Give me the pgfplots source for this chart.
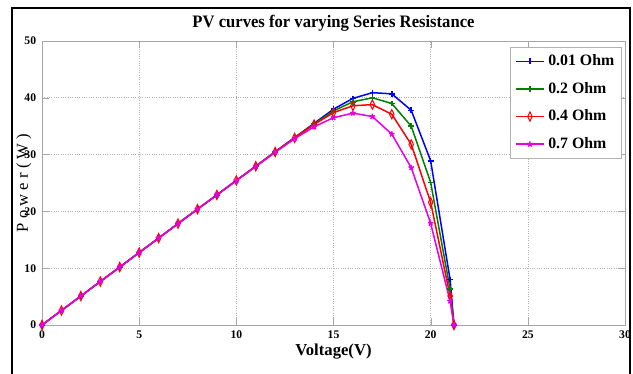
\documentclass[border=0pt]{standalone}
\usepackage{pgfplots}
\pgfplotsset{compat=1.18}
\usepackage{fontspec}
\setmainfont{Liberation Serif}
\definecolor{mblue}{RGB}{0,0,255}
\definecolor{mgreen}{RGB}{0,128,0}
\definecolor{mred}{RGB}{255,0,0}
\definecolor{mmag}{RGB}{230,0,230}
\begin{document}
\begin{tikzpicture}
\path[use as bounding box] (-25.2pt,-29.4pt) rectangle (354.6pt,195pt);
\draw[line width=1.2pt] (-18pt,-40pt) rectangle (352.8pt,190.2pt);
\begin{axis}[
  at={(0,0)}, anchor=south west,
  scale only axis, width=349.8pt, height=170.4pt,
  xmin=0, xmax=30, ymin=0, ymax=50,
  xtick={0,5,...,30}, ytick={0,10,...,50},
  grid=major,
  grid style={densely dotted, gray!60, line width=0.4pt},
  axis line style={gray!70, line width=0.4pt},
  tick style={gray!70},
  tick align=inside,
  tick label style={font=\bfseries\fontsize{7}{8}\selectfont},
  /pgf/number format/assume math mode=true,
  title={\bfseries PV curves for varying Series Resistance},
  title style={font=\bfseries\fontsize{10.5}{12}\selectfont, yshift=-4pt, xscale=0.95},
  xlabel={\bfseries Voltage(V)},
  xlabel style={font=\bfseries\fontsize{10}{12}\selectfont, yshift=4pt},
  ylabel={P o w e r ( W )},
  ylabel style={font=\fontsize{10}{12}\selectfont, yshift=-11pt},
  legend style={at={(0.995,0.98)}, anchor=north east,
    font=\bfseries\fontsize{9.5}{10}\selectfont, draw=gray!60,
    row sep=4.5pt, inner sep=2.5pt},
  legend image code/.code={%
    \draw[mark repeat=2,mark phase=2] plot coordinates {(0cm,0cm) (0.3cm,0cm) (0.6cm,0cm)};},
  legend cell align=left,
  every axis plot/.append style={line width=0.9pt, mark size=1.7pt},
]
\addplot[mblue, mark=+] coordinates {
(0,0) (1,2.55) (2,5.1) (3,7.65) (4,10.2) (5,12.75) (6,15.3) (7,17.85) (8,20.4) (9,22.9) (10,25.45) (11,27.95) (12,30.5) (13,33.0) (14,35.5) (15,38.0) (16,39.9) (17,40.9) (18,40.7) (19,37.8) (20,28.9) (21,8.0) (21.2,0)};
\addlegendentry{0.01 Ohm}
\addplot[mgreen, mark=+] coordinates {
(0,0) (1,2.55) (2,5.1) (3,7.65) (4,10.2) (5,12.75) (6,15.3) (7,17.85) (8,20.4) (9,22.9) (10,25.45) (11,27.95) (12,30.5) (13,33.0) (14,35.4) (15,37.7) (16,39.3) (17,40.0) (18,39.0) (19,35.0) (20,25.1) (21,6.3) (21.2,0)};
\addlegendentry{0.2 Ohm}
\addplot[mred, mark=diamond, mark options={fill=white, line width=0.6pt, xscale=0.9, yscale=1.4, mark size=2pt}] coordinates {
(0,0) (1,2.55) (2,5.1) (3,7.65) (4,10.2) (5,12.75) (6,15.3) (7,17.85) (8,20.4) (9,22.9) (10,25.45) (11,27.95) (12,30.45) (13,32.95) (14,35.3) (15,37.4) (16,38.6) (17,38.8) (18,37.1) (19,31.8) (20,21.6) (21,5.1) (21.2,0)};
\addlegendentry{0.4 Ohm}
\addplot[mmag, mark=star, mark options={line width=0.9pt}] coordinates {
(0,0) (1,2.55) (2,5.1) (3,7.65) (4,10.2) (5,12.75) (6,15.3) (7,17.85) (8,20.4) (9,22.9) (10,25.4) (11,27.9) (12,30.4) (13,32.8) (14,34.9) (15,36.5) (16,37.3) (17,36.7) (18,33.6) (19,27.7) (20,17.9) (21,4.2) (21.2,0)};
\addlegendentry{0.7 Ohm}
\end{axis}
\end{tikzpicture}
\end{document}
